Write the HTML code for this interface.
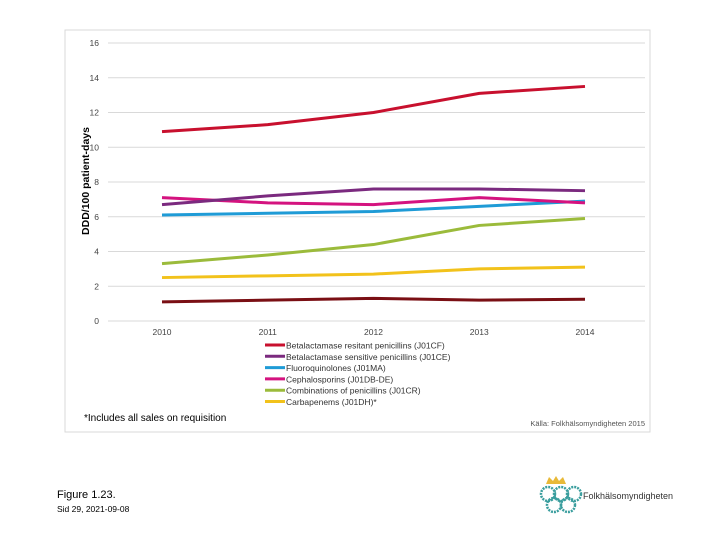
<!DOCTYPE html>
<html><head><meta charset="utf-8"><style>
body{margin:0;width:720px;height:540px;background:#fff;font-family:"Liberation Sans","DejaVu Sans",sans-serif;overflow:hidden}
svg{position:absolute;left:0;top:0}
</style></head><body>
<svg width="720" height="540">
<rect x="65" y="30" width="585" height="402" fill="none" stroke="#d9d9d9"/>
<g id="grid"></g><g id="series"></g><g id="legend"></g>
<text transform="translate(89,181) rotate(-90)" text-anchor="middle" font-size="10.5" font-weight="bold" fill="#000">DDD/100 patient-days</text>
<text x="84" y="421" font-size="10" fill="#000">*Includes all sales on requisition</text>
<text x="645" y="426" text-anchor="end" font-size="7.5" fill="#555">Källa: Folkhälsomyndigheten 2015</text>
<text x="57" y="498" font-size="11" fill="#000">Figure 1.23.</text>
<text x="57" y="512" font-size="8.5" fill="#000">Sid 29, 2021-09-08</text>
<g>
<path d="M546 484 l3 -7 l4 4 l3 -5 l3 5 l4 -4 l3 7 z" fill="#e8b938"/>
<circle cx="548" cy="494" r="7" fill="none" stroke="#3a9e9e" stroke-width="2.5" stroke-dasharray="2 1"/>
<circle cx="561" cy="494" r="7" fill="none" stroke="#3a9e9e" stroke-width="2.5" stroke-dasharray="2 1"/>
<circle cx="574" cy="494" r="7" fill="none" stroke="#3a9e9e" stroke-width="2.5" stroke-dasharray="2 1"/>
<circle cx="554" cy="505" r="7" fill="none" stroke="#3a9e9e" stroke-width="2.5" stroke-dasharray="2 1"/>
<circle cx="568" cy="505" r="7" fill="none" stroke="#3a9e9e" stroke-width="2.5" stroke-dasharray="2 1"/>
<text x="583" y="499" font-size="9" fill="#333">Folkhälsomyndigheten</text>
</g>
</svg>
<script>
const years=["2010","2011","2012","2013","2014"];
const yTicks=[0,2,4,6,8,10,12,14,16];
const seriesNames=["Betalactamase resitant penicillins (J01CF)","Betalactamase sensitive penicillins (J01CE)","Fluoroquinolones (J01MA)","Cephalosporins (J01DB-DE)","Combinations of penicillins (J01CR)","Carbapenems (J01DH)*"];
const seriesColors=["#c8102e","#7b2a7f","#1f9bd6","#d4137f","#9bbb3b","#f2c21b","#7a0f14"];
const sRed=[10.9,11.3,12.0,13.1,13.5];
const sPurple=[6.7,7.2,7.6,7.6,7.5];
const sBlue=[6.1,6.2,6.3,6.6,6.9];
const sMagenta=[7.1,6.8,6.7,7.1,6.8];
const sGreen=[3.3,3.8,4.4,5.5,5.9];
const sYellow=[2.5,2.6,2.7,3.0,3.1];
const sDark=[1.1,1.2,1.3,1.2,1.25];
const NS="http://www.w3.org/2000/svg";
function yS(v){return 321-v*(278/16);}
function xS(i){return 162+i*(423/4);}
function mk(t,a,p){const e=document.createElementNS(NS,t);for(const k in a)e.setAttribute(k,a[k]);p.appendChild(e);return e;}
const grid=document.getElementById('grid');
yTicks.forEach(t=>{
 const l=mk('line',{x1:108,x2:645,y1:yS(t),y2:yS(t),stroke:'#d9d9d9'},grid);
 
 
 const tx=mk('text',{x:99,y:yS(t)+3,'text-anchor':'end','font-size':'8.5',fill:'#444'},grid);
 tx.textContent=t;
 
 
});
years.forEach((y,i)=>{
 const tx=mk('text',{x:xS(i),y:335,'text-anchor':'middle','font-size':'8.5',fill:'#444'},grid);
 tx.textContent=y;
 
 
});
const all=[sDark,sYellow,sGreen,sBlue,sMagenta,sPurple,sRed];
const cols=[6,5,4,2,3,1,0];
const sg=document.getElementById('series');
all.forEach((s,k)=>{
 const d=s.map((v,i)=>(i?'L':'M')+xS(i)+' '+yS(v)).join(' ');
 const p=mk('path',{d:d,fill:'none',stroke:seriesColors[cols[k]],'stroke-width':3,'stroke-linejoin':'round'},sg);
 
 
});
const lg=document.getElementById('legend');
seriesNames.forEach((n,i)=>{
 const y=345+i*11.3;
 const l=mk('line',{x1:265,x2:285,y1:y,y2:y,stroke:seriesColors[i],'stroke-width':3},lg);
 
 
 const t=mk('text',{x:286,y:y+3.5,'font-size':'8.5',fill:'#333'},lg);
 t.textContent=n;
 
 
});
</script>
</body></html>
